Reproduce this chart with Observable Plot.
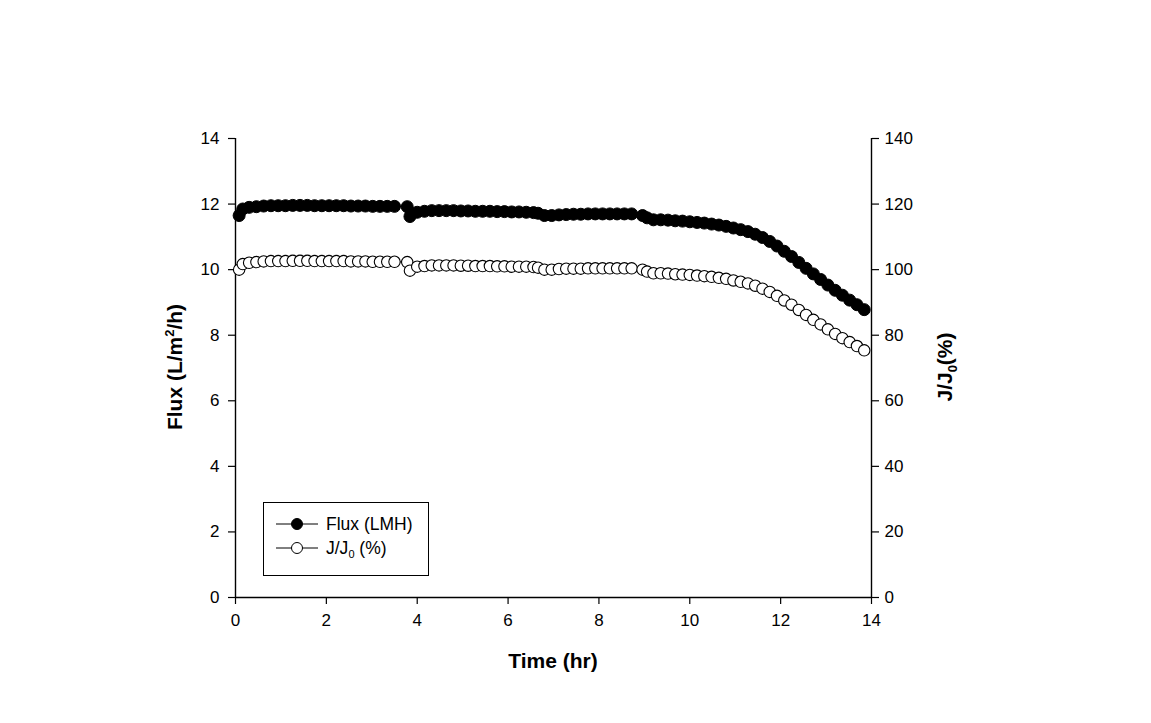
<!DOCTYPE html>
<html><head><meta charset="utf-8">
<script src="https://cdn.jsdelivr.net/npm/d3@7"></script>
<script src="https://cdn.jsdelivr.net/npm/@observablehq/plot@0.6"></script>
<style>body{margin:0;background:#fff;} svg{display:block;}</style>
</head><body><div id="chart"></div>
<script>
// Time (hr)
const time = [
  0.08, 0.16, 0.30, 0.46, 0.62, 0.78, 0.94, 1.10, 1.26, 1.42, 1.58, 1.74, 1.90, 2.06, 2.22, 2.38, 2.54, 2.70, 2.86, 3.02, 3.18, 3.34, 3.50,
  3.78, 3.84, 4.00, 4.16, 4.32, 4.48, 4.64, 4.80, 4.96, 5.12, 5.28, 5.44, 5.60, 5.76, 5.92, 6.08, 6.24, 6.40, 6.56, 6.66,
  6.80, 6.96, 7.12, 7.28, 7.44, 7.60, 7.76, 7.92, 8.08, 8.24, 8.40, 8.56, 8.72,
  8.96, 9.06, 9.20, 9.36, 9.52, 9.68, 9.84, 10.00, 10.16, 10.32, 10.48, 10.64, 10.80, 10.96, 11.12, 11.28, 11.44, 11.60, 11.76, 11.92,
  12.08, 12.24, 12.40, 12.56, 12.72, 12.88, 13.04, 13.20, 13.36, 13.52, 13.68, 13.84
];
// Flux (LMH)
const flux = [
  11.65, 11.85, 11.90, 11.92, 11.94, 11.95, 11.95, 11.95, 11.96, 11.96, 11.96, 11.95, 11.95, 11.95, 11.95, 11.95, 11.94, 11.94, 11.94, 11.93, 11.93, 11.93, 11.93,
  11.92, 11.62, 11.75, 11.78, 11.80, 11.80, 11.80, 11.80, 11.79, 11.79, 11.78, 11.78, 11.78, 11.77, 11.77, 11.76, 11.76, 11.75, 11.74, 11.72,
  11.65, 11.65, 11.67, 11.68, 11.69, 11.69, 11.70, 11.70, 11.70, 11.70, 11.70, 11.70, 11.70,
  11.65, 11.58, 11.52, 11.52, 11.51, 11.49, 11.48, 11.46, 11.44, 11.42, 11.39, 11.36, 11.32, 11.27, 11.22, 11.16, 11.08, 10.98, 10.86, 10.72,
  10.56, 10.40, 10.22, 10.04, 9.87, 9.70, 9.53, 9.37, 9.22, 9.07, 8.93, 8.78
];
// J/J0 (%)
const jRatio = [
  100.0, 101.7, 102.1, 102.3, 102.5, 102.6, 102.6, 102.6, 102.7, 102.7, 102.7, 102.6, 102.6, 102.6, 102.6, 102.6, 102.5, 102.5, 102.5, 102.4, 102.4, 102.4, 102.4,
  102.3, 99.7, 100.9, 101.1, 101.3, 101.3, 101.3, 101.3, 101.2, 101.2, 101.1, 101.1, 101.1, 101.0, 101.0, 100.9, 100.9, 100.9, 100.8, 100.6,
  100.0, 100.0, 100.2, 100.3, 100.3, 100.3, 100.4, 100.4, 100.4, 100.4, 100.4, 100.4, 100.4,
  100.0, 99.4, 98.9, 98.9, 98.8, 98.6, 98.5, 98.4, 98.2, 98.0, 97.8, 97.5, 97.2, 96.7, 96.3, 95.8, 95.1, 94.2, 93.2, 92.0,
  90.6, 89.3, 87.7, 86.2, 84.7, 83.3, 81.8, 80.4, 79.1, 77.9, 76.7, 75.4
];
const xTicks = [0, 2, 4, 6, 8, 10, 12, 14];
const leftTicks = [0, 2, 4, 6, 8, 10, 12, 14];
const rightTicks = [0, 20, 40, 60, 80, 100, 120, 140];

const W = 1151, H = 723, mL = 235, mR = 280, mT = 138, mB = 126;
const FONT = "'Liberation Sans', Arial, sans-serif";
const data = time.map((t, i) => ({t, flux: flux[i], j: jRatio[i]}));

const svg = Plot.plot({
  width: W, height: H,
  marginLeft: mL, marginRight: mR, marginTop: mT, marginBottom: mB,
  style: {fontFamily: FONT, fontSize: "17px", color: "#000", background: "#fff", overflow: "visible"},
  x: {domain: [0, 14]},
  y: {domain: [0, 14]},
  marks: [
    Plot.ruleX([0, 14], {stroke: "#000", strokeWidth: 1.4}),
    Plot.ruleY([0], {stroke: "#000", strokeWidth: 1.4}),
    Plot.axisX({ticks: xTicks, tickSize: 7, tickPadding: 9, label: null, fontSize: 17, strokeWidth: 1.2}),
    Plot.axisY({ticks: leftTicks, anchor: "left", tickSize: 7, tickPadding: 9, label: null, fontSize: 17, strokeWidth: 1.2}),
    Plot.axisY({ticks: rightTicks.map(v => v / 10), anchor: "right", tickSize: 7, tickPadding: 6,
      tickFormat: d => String(Math.round(d * 10)), label: null, fontSize: 17, strokeWidth: 1.2}),
    Plot.line(data, {x: "t", y: "flux", stroke: "#000", strokeWidth: 1}),
    Plot.dot(data, {x: "t", y: "flux", r: 6, fill: "#000", stroke: "#000", strokeWidth: 1}),
    Plot.line(data, {x: "t", y: d => d.j / 10, stroke: "#000", strokeWidth: 1}),
    Plot.dot(data, {x: "t", y: d => d.j / 10, r: 5.7, fill: "#fff", stroke: "#000", strokeWidth: 1.1})
  ]
});

const s = d3.select(svg);
// Axis titles
s.append("text").attr("x", 553).attr("y", 668).attr("text-anchor", "middle")
  .style("font-family", FONT).style("font-size", "21px").style("font-weight", "bold").attr("fill", "#000")
  .text("Time (hr)");

const lt = s.append("text").attr("transform", "translate(182,367) rotate(-90)").attr("text-anchor", "middle")
  .style("font-family", FONT).style("font-size", "21px").style("font-weight", "bold").attr("fill", "#000");
lt.append("tspan").text("Flux (L/m");
lt.append("tspan").attr("dy", -8).style("font-size", "13px").text("2");
lt.append("tspan").attr("dy", 8).text("/h)");

const rt = s.append("text").attr("transform", "translate(952,367) rotate(-90)").attr("text-anchor", "middle")
  .style("font-family", FONT).style("font-size", "21px").style("font-weight", "bold").attr("fill", "#000");
rt.append("tspan").text("J/J");
rt.append("tspan").attr("dy", 5).style("font-size", "13px").text("0");
rt.append("tspan").attr("dy", -5).text("(%)");

// Legend
const lg = s.append("g").attr("text-anchor", "start");
lg.append("rect").attr("x", 263.5).attr("y", 502.5).attr("width", 165).attr("height", 73)
  .attr("fill", "#fff").attr("stroke", "#000").attr("stroke-width", 1);
const entries = [
  {label: "Flux (LMH)", fill: "#000", y: 524},
  {label: "J/J0 (%)", fill: "#fff", y: 548, sub: true}
];
entries.forEach(e => {
  lg.append("line").attr("x1", 276).attr("x2", 318).attr("y1", e.y).attr("y2", e.y).attr("stroke", "#000");
  lg.append("circle").attr("cx", 297).attr("cy", e.y).attr("r", 5.5).attr("fill", e.fill).attr("stroke", "#000");
  const t = lg.append("text").attr("x", 326).attr("y", e.y + 6).attr("text-anchor", "start")
    .style("font-family", FONT).style("font-size", "17.5px").attr("fill", "#000");
  if (e.sub) {
    t.append("tspan").text("J/J");
    t.append("tspan").attr("dy", 4).style("font-size", "11px").text("0");
    t.append("tspan").attr("dy", -4).text(" (%)");
  } else {
    t.text(e.label);
  }
});

document.getElementById("chart").appendChild(svg);
</script>
</body></html>
